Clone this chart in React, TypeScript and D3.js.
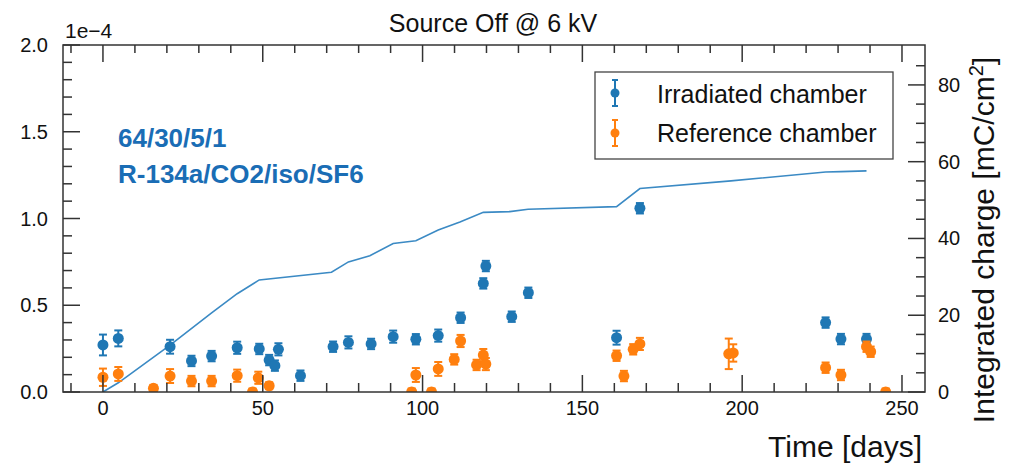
import * as d3 from "d3";

// Irradiated chamber (blue)
const irrDays = [0, 4.8, 21, 27.7, 34, 42, 48.9, 52, 53.8, 54.9, 61.8, 72, 76.8, 83.9, 90.8, 97.9, 104.9, 111.9, 119, 119.8, 127.9, 133.1, 160.7, 168, 226.1, 230.9, 238.9];
const irrVals = [0.271, 0.309, 0.261, 0.179, 0.207, 0.255, 0.248, 0.184, 0.152, 0.246, 0.094, 0.261, 0.286, 0.277, 0.319, 0.304, 0.325, 0.428, 0.626, 0.726, 0.434, 0.572, 0.313, 1.059, 0.4, 0.305, 0.305];
const irrErr = [0.06, 0.046, 0.04, 0.03, 0.03, 0.035, 0.03, 0.03, 0.03, 0.035, 0.03, 0.03, 0.035, 0.03, 0.035, 0.03, 0.035, 0.03, 0.03, 0.03, 0.03, 0.03, 0.04, 0.03, 0.03, 0.03, 0.03];

// Reference chamber (orange)
const refDays = [0, 4.8, 15.8, 21, 27.7, 34, 42, 46.8, 48.6, 52, 96.6, 97.9, 102.8, 104.9, 109.9, 111.9, 116.9, 119, 119.8, 160.7, 163, 165.9, 168, 195.8, 197.2, 226.1, 230.9, 238.9, 240.2, 244.9];
const refVals = [0.085, 0.104, 0.021, 0.092, 0.063, 0.063, 0.094, 0.0, 0.082, 0.036, 0.0, 0.098, 0.0, 0.133, 0.188, 0.294, 0.156, 0.213, 0.161, 0.209, 0.092, 0.246, 0.277, 0.22, 0.225, 0.14, 0.098, 0.261, 0.232, 0.0];
const refErr = [0.05, 0.04, 0.02, 0.04, 0.03, 0.03, 0.035, 0.02, 0.035, 0.02, 0.02, 0.04, 0.02, 0.04, 0.03, 0.035, 0.03, 0.035, 0.035, 0.03, 0.03, 0.03, 0.035, 0.088, 0.05, 0.03, 0.03, 0.03, 0.03, 0.02];

// Integrated charge [mC/cm2] (right axis)
const chargeDays = [0, 4.8, 21, 34, 42, 48.9, 71.5, 76.8, 83.5, 90.8, 97.9, 104.9, 111.7, 119, 127.3, 133, 160.7, 168, 196.5, 226.1, 230.9, 238.9];
const chargeVals = [0, 2.4, 12.2, 20.6, 25.6, 29.2, 31.2, 33.9, 35.5, 38.7, 39.4, 42.2, 44.3, 46.8, 47.0, 47.6, 48.3, 53.0, 55.0, 57.3, 57.4, 57.6];

const xMajor = [0, 50, 100, 150, 200, 250];
const yMajor = [0, 0.5, 1.0, 1.5, 2.0];
const y2Major = [0, 20, 40, 60, 80];

const W = 1022;
const H = 464;
const M = { left: 63, right: 925, top: 45, bottom: 392 };
const BLUE = "#1f77b4";
const ORANGE = "#ff7f0e";
const LINE = "#3b8ac4";
const AXIS = "#333";
const FONT = "'Liberation Sans', Arial, Helvetica, sans-serif";

export default function App() {
  const x = d3.scaleLinear().domain([-12.5, 257.2]).range([M.left, M.right]);
  const y = d3.scaleLinear().domain([0, 2]).range([M.bottom, M.top]);
  const y2 = d3.scaleLinear().domain([0, 90.4]).range([M.bottom, M.top]);

  const xMinor = d3.range(-10, 251, 10).filter((d) => d % 50 !== 0);
  const yMinor = d3.range(0, 20).map((i) => i / 10).filter((_, i) => i % 5 !== 0);
  const y2Minor = d3.range(5, 90, 5).filter((d) => d % 20 !== 0);

  const line = d3
    .line<number>()
    .x((_, i) => x(chargeDays[i]))
    .y((d) => y2(d));

  const points = (days: number[], vals: number[], errs: number[], color: string) =>
    days.map((d, i) => {
      const cx = x(d);
      const cy = y(vals[i]);
      const lo = y(vals[i] - errs[i]);
      const hi = y(vals[i] + errs[i]);
      return (
        <g key={i}>
          <line x1={cx} x2={cx} y1={lo} y2={hi} stroke={color} strokeWidth={2} />
          <line x1={cx - 4} x2={cx + 4} y1={lo} y2={lo} stroke={color} strokeWidth={2} />
          <line x1={cx - 4} x2={cx + 4} y1={hi} y2={hi} stroke={color} strokeWidth={2} />
          <circle cx={cx} cy={cy} r={5.5} fill={color} />
        </g>
      );
    });

  return (
    <svg width={W} height={H} style={{ position: "absolute", left: 0, top: 0, background: "#fff" }} fontFamily={FONT}>
      <defs>
        <clipPath id="plot">
          <rect x={M.left} y={M.top} width={M.right - M.left} height={M.bottom - M.top} />
        </clipPath>
      </defs>

      <text x={493} y={32} fontSize={25} textAnchor="middle" fill="#111">Source Off @ 6 kV</text>
      <text x={65} y={38} fontSize={21} fill="#111">1e−4</text>

      {/* data */}
      <g clipPath="url(#plot)">
        <path d={line(chargeVals) ?? ""} fill="none" stroke={LINE} strokeWidth={1.6} />
        {points(irrDays, irrVals, irrErr, BLUE)}
        {points(refDays, refVals, refErr, ORANGE)}
      </g>

      {/* frame */}
      <rect x={M.left} y={M.top} width={M.right - M.left} height={M.bottom - M.top} fill="none" stroke={AXIS} strokeWidth={1.5} />

      {/* x ticks, bottom and top */}
      <g stroke={AXIS} strokeWidth={1.5}>
        {xMajor.map((d) => (
          <g key={"xM" + d}>
            <line x1={x(d)} x2={x(d)} y1={M.bottom} y2={M.bottom - 17} />
            <line x1={x(d)} x2={x(d)} y1={M.top} y2={M.top + 17} />
          </g>
        ))}
        {xMinor.map((d) => (
          <g key={"xm" + d}>
            <line x1={x(d)} x2={x(d)} y1={M.bottom} y2={M.bottom - 9} />
            <line x1={x(d)} x2={x(d)} y1={M.top} y2={M.top + 8} />
          </g>
        ))}
        {yMajor.map((d) => (
          <line key={"yM" + d} x1={M.left} x2={M.left + 17} y1={y(d)} y2={y(d)} />
        ))}
        {yMinor.map((d) => (
          <line key={"ym" + d} x1={M.left} x2={M.left + 9} y1={y(d)} y2={y(d)} />
        ))}
        {y2Major.map((d) => (
          <line key={"y2M" + d} x1={M.right} x2={M.right - 17} y1={y2(d)} y2={y2(d)} />
        ))}
        {y2Minor.map((d) => (
          <line key={"y2m" + d} x1={M.right} x2={M.right - 9} y1={y2(d)} y2={y2(d)} />
        ))}
      </g>

      {/* tick labels */}
      <g fontSize={20} fill="#111">
        {xMajor.map((d) => (
          <text key={"xl" + d} x={x(d)} y={415} textAnchor="middle">{d}</text>
        ))}
        {yMajor.map((d) => (
          <text key={"yl" + d} x={48} y={y(d) + 7} textAnchor="end">{d.toFixed(1)}</text>
        ))}
        {y2Major.map((d) => (
          <text key={"y2l" + d} x={938} y={y2(d) + 7}>{d}</text>
        ))}
      </g>

      {/* axis titles */}
      <text x={922} y={457} fontSize={30} textAnchor="end" fill="#111">Time [days]</text>
      <text transform="translate(994,240) rotate(-90)" fontSize={30} textAnchor="middle" fill="#111">
        Integrated charge [mC/cm<tspan dy={-11} fontSize={20}>2</tspan><tspan dy={11}>]</tspan>
      </text>

      {/* annotation */}
      <g fontSize={26} fontWeight="bold" fill="#1a6db5">
        <text x={118} y={147}>64/30/5/1</text>
        <text x={118} y={183}>R-134a/CO2/iso/SF6</text>
      </g>

      {/* legend */}
      <rect x={595} y={72} width={298} height={87} fill="#fff" stroke="#444" strokeWidth={1.3} />
      {[
        { label: "Irradiated chamber", color: BLUE, cy: 93, ty: 103 },
        { label: "Reference chamber", color: ORANGE, cy: 133, ty: 142 },
      ].map((l) => (
        <g key={l.label}>
          <line x1={615} x2={615} y1={l.cy - 13} y2={l.cy + 13} stroke={l.color} strokeWidth={2} />
          <line x1={612} x2={618} y1={l.cy - 13} y2={l.cy - 13} stroke={l.color} strokeWidth={2} />
          <line x1={612} x2={618} y1={l.cy + 13} y2={l.cy + 13} stroke={l.color} strokeWidth={2} />
          <circle cx={615} cy={l.cy} r={4.5} fill={l.color} />
          <text x={657} y={l.ty} fontSize={25} fill="#111">{l.label}</text>
        </g>
      ))}
    </svg>
  );
}
